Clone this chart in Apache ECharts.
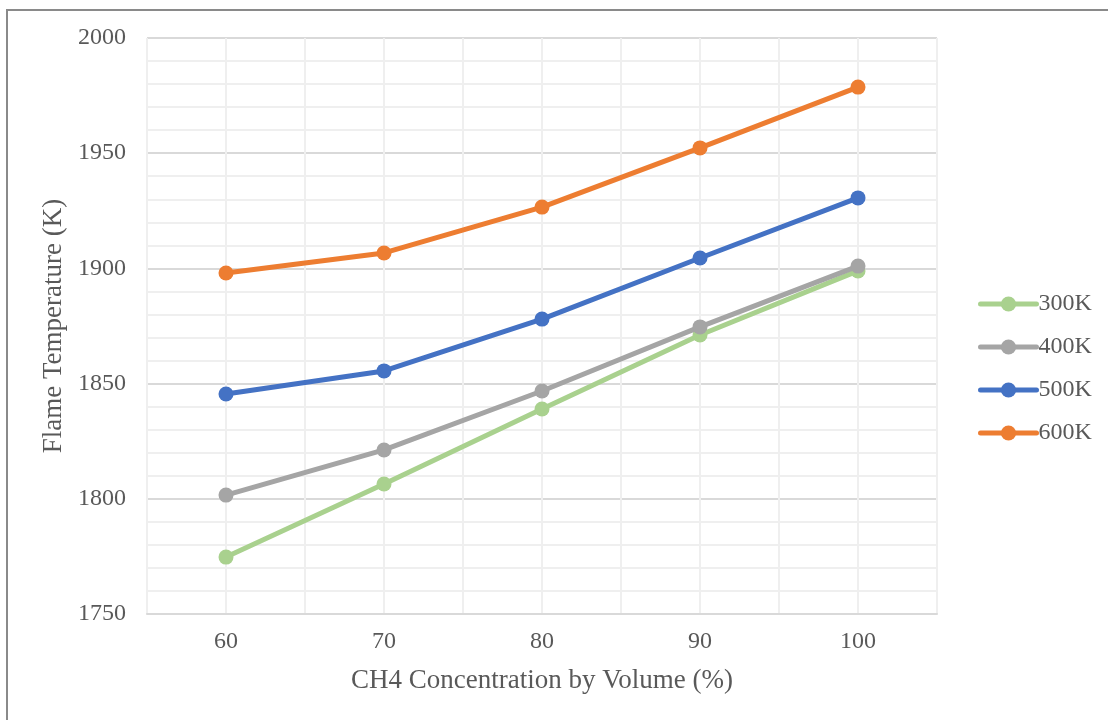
<!DOCTYPE html>
<html>
<head>
<meta charset="utf-8">
<script src="https://cdn.jsdelivr.net/npm/echarts@6/dist/echarts.min.js"></script>
<style>
  html, body { margin: 0; padding: 0; background: #fff; overflow: hidden; }
  .frame {
    position: absolute; left: 6px; top: 9px;
    width: 1200px; height: 800px;
    border: 2px solid #8a8a8a;
  }
  #chart { position: absolute; left: 0; top: 0; width: 1108px; height: 720px; }
</style>
</head>
<body>
<div class="frame"></div>
<div id="chart"></div>
<script>
// CH4 concentration (%)
var concentration = [60, 70, 80, 90, 100];
// flame temperature (K) for each initial temperature
var temp300K = [1774.7, 1806.4, 1839.0, 1871.1, 1898.9];
var temp400K = [1801.6, 1821.2, 1846.8, 1874.6, 1901.0];
var temp500K = [1845.5, 1855.5, 1878.0, 1904.5, 1930.6];
var temp600K = [1898.0, 1906.7, 1926.6, 1952.3, 1978.7];
var seriesNames = ["300K", "400K", "500K", "600K"];
var colors = ["#A9D18E", "#A5A5A5", "#4472C4", "#ED7D31"];

var font = "'Liberation Serif', 'Times New Roman', serif";

function pairs(vals) {
  return concentration.map(function (c, i) { return [c, vals[i]]; });
}

var allData = [temp300K, temp400K, temp500K, temp600K];

var myChart = echarts.init(document.getElementById("chart"));
var option = {
  animation: false,
  grid: {
    left: 147,
    top: 38,
    width: 790,
    height: 576,
  },
  legend: {
    orient: "vertical",
    left: 978,
    top: 292,
    padding: 0,
    itemWidth: 56,
    itemHeight: 19,
    itemGap: 19,
    lineStyle: { width: 5, cap: "round" },
    textStyle: {
      fontFamily: font,
      fontSize: 24,
      color: "#595959",
      padding: [0, 0, 0, -3],
    },
    data: seriesNames,
  },
  xAxis: {
    type: "value",
    min: 55,
    max: 105,
    interval: 5,
    name: "CH4 Concentration by Volume (%)",
    nameLocation: "middle",
    nameGap: 53,
    nameTextStyle: { fontFamily: font, fontSize: 27, color: "#595959" },
    axisLine: { show: true, lineStyle: { color: "#d9d9d9", width: 2 } },
    axisTick: { show: false },
    axisLabel: {
      margin: 16,
      fontFamily: font,
      fontSize: 24,
      color: "#595959",
      formatter: function (v) {
        return concentration.indexOf(v) >= 0 ? String(v) : "";
      },
    },
    splitLine: { show: true, lineStyle: { color: "#efefef", width: 2 } },
  },
  yAxis: {
    type: "value",
    min: 1750,
    max: 2000,
    interval: 50,
    name: "Flame Temperature (K)",
    nameLocation: "middle",
    nameGap: 73,
    nameTextStyle: { fontFamily: font, fontSize: 27, color: "#595959" },
    axisLine: { show: false },
    axisTick: { show: false },
    axisLabel: {
      margin: 21,
      fontFamily: font,
      fontSize: 24,
      color: "#595959",
      formatter: function (v) { return String(v); },
    },
    splitLine: { show: true, lineStyle: { color: "#d9d9d9", width: 2 } },
    minorTick: { show: false, splitNumber: 5 },
    minorSplitLine: { show: true, lineStyle: { color: "#efefef", width: 2 } },
  },
  series: seriesNames.map(function (name, i) {
    return {
      name: name,
      type: "line",
      data: pairs(allData[i]),
      color: colors[i],
      symbol: "circle",
      symbolSize: 15,
      lineStyle: { width: 5 },
      z: 2 + i,
    };
  }),
};
myChart.setOption(option);
</script>
</body>
</html>
